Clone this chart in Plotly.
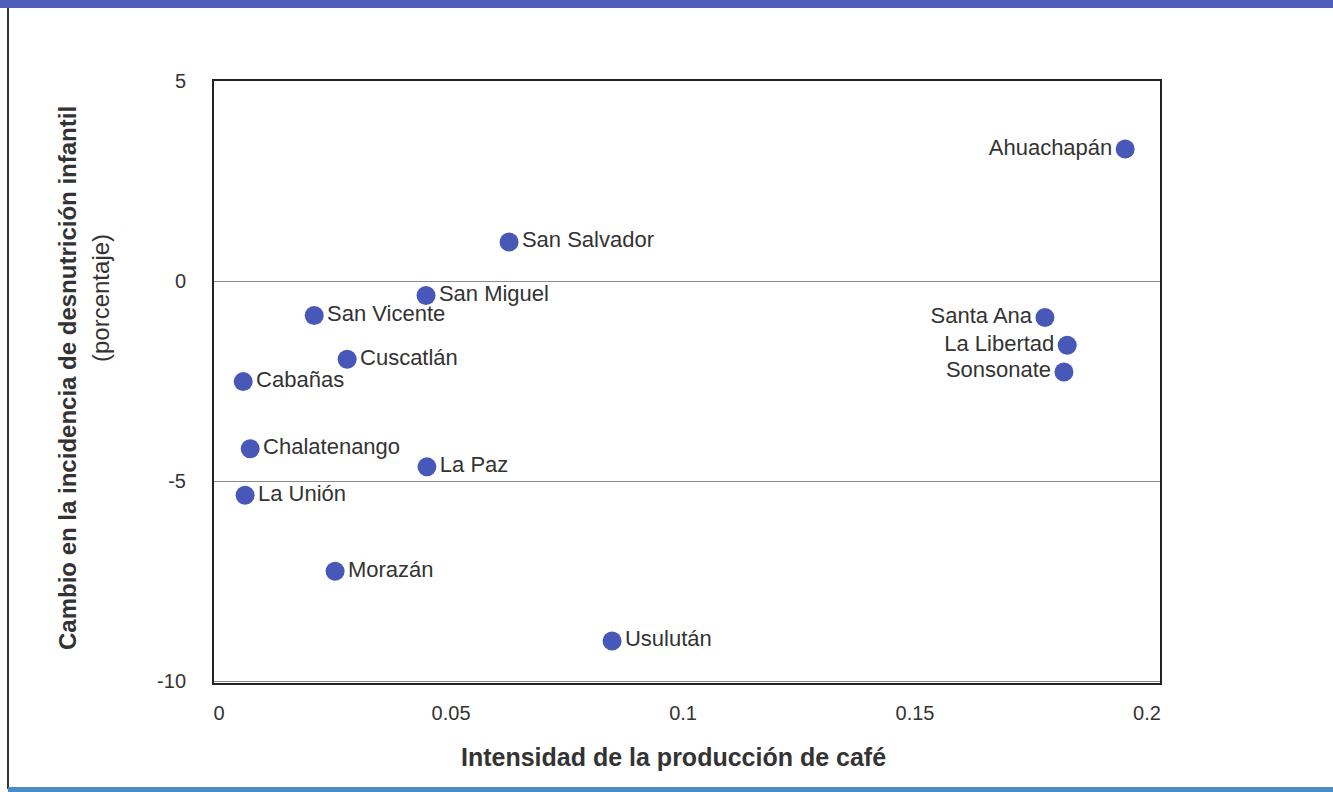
import plotly.graph_objects as go

# ---- data ----
departamentos = ["Ahuachapán", "San Salvador", "San Miguel", "San Vicente", "Santa Ana",
                 "Cuscatlán", "La Libertad", "Sonsonate", "Cabañas", "Chalatenango",
                 "La Paz", "La Unión", "Morazán", "Usulután"]
intensidad_cafe = [0.1953, 0.0625, 0.0446, 0.0205, 0.1780,
                   0.0276, 0.1828, 0.1821, 0.0052, 0.0067,
                   0.0448, 0.0056, 0.0250, 0.0847]
cambio_desnutricion = [3.30, 0.98, -0.36, -0.86, -0.91,
                       -1.95, -1.60, -2.27, -2.51, -4.19,
                       -4.64, -5.35, -7.25, -8.99]
label_side = ["middle left", "middle right", "middle right", "middle right", "middle left",
              "middle right", "middle left", "middle left", "middle right", "middle right",
              "middle right", "middle right", "middle right", "middle right"]

x_ticks = [0, 0.05, 0.1, 0.15, 0.2]
x_ticktext = ["0", "0.05", "0.1", "0.15", "0.2"]
y_ticks = [5, 0, -5, -10]
y_ticktext = ["5", "0", "-5", "-10"]

FONT = "Liberation Sans, Arial, sans-serif"
DOT = "#4858B8"
TXT = "#333333"

fig = go.Figure()
fig.add_trace(go.Scatter(
    x=intensidad_cafe, y=cambio_desnutricion, mode="markers+text",
    text=departamentos, textposition=label_side,
    textfont=dict(family=FONT, size=22, color=TXT),
    marker=dict(size=19, color=DOT, line=dict(width=0)),
    hoverinfo="text", showlegend=False,
))

W, H = 1333, 792
L, R, T, B = 214, 1160, 81, 683  # plot frame in pixels

def px(xp):
    return (xp - L) / (R - L)

def py(yp):
    return (B - yp) / (B - T)

fig.update_layout(
    width=W, height=H,
    margin=dict(l=L, r=W - R, t=T, b=H - B, pad=0),
    paper_bgcolor="white", plot_bgcolor="white",
    font=dict(family=FONT, color=TXT),
    xaxis=dict(range=[-0.0011, 0.2028], tickvals=x_ticks, ticktext=x_ticktext,
               showgrid=False, zeroline=False, showline=True, mirror=True,
               linecolor="#222222", linewidth=2, ticks="", ticklabelstandoff=11,
               tickfont=dict(family=FONT, size=20, color=TXT)),
    yaxis=dict(range=[-10.04, 5], tickvals=y_ticks, ticktext=y_ticktext,
               showgrid=True, gridcolor="#8a8a8a", gridwidth=1, zeroline=False,
               showline=True, mirror=True, linecolor="#222222", linewidth=2,
               ticks="", ticklabelstandoff=22,
               tickfont=dict(family=FONT, size=20, color=TXT)),
    annotations=[
        dict(text="<b>Intensidad de la producción de café</b>", xref="paper", yref="paper",
             x=px(673), y=py(757), showarrow=False, xanchor="center", yanchor="middle",
             font=dict(family=FONT, size=25, color=TXT)),
        dict(text="<b>Cambio en la incidencia de desnutrición infantil</b>", xref="paper", yref="paper",
             x=px(67), y=py(378), showarrow=False, textangle=-90, xanchor="center", yanchor="middle",
             font=dict(family=FONT, size=24, color=TXT)),
        dict(text="(porcentaje)", xref="paper", yref="paper",
             x=px(100), y=py(298), showarrow=False, textangle=-90, xanchor="center", yanchor="middle",
             font=dict(family=FONT, size=24, color=TXT)),
    ],
    shapes=[
        dict(type="rect", xref="paper", yref="paper", x0=px(0), x1=px(W), y0=py(8), y1=py(0),
             fillcolor="#4F5FB8", line=dict(width=0), layer="above"),
        dict(type="line", xref="paper", yref="paper", x0=px(8), x1=px(8), y0=py(8), y1=py(789),
             line=dict(color="#333333", width=2)),
        dict(type="rect", xref="paper", yref="paper", x0=px(8), x1=px(W), y0=py(792), y1=py(787),
             fillcolor="#4C8CC4", line=dict(width=0)),
    ],
)

fig.write_html("out.html", config={"displayModeBar": False},
               post_script="document.body.style.margin='0px';")
